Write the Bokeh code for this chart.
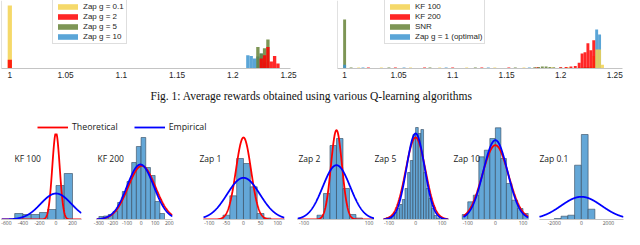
import numpy as np
from bokeh.plotting import figure
from bokeh.models import (Range1d, FixedTicker, Legend, LegendItem, Label, Span,
                          ColumnDataSource)
from bokeh.layouts import row, column
from bokeh.embed import file_html
from bokeh.resources import INLINE

# ======================= Fig. 1 data (counts out of 100 runs) =======================
fig1_tick_values = [1.0, 1.05, 1.1, 1.15, 1.2, 1.25]
fig1_tick_labels = ["1", "1.05", "1.1", "1.15", "1.2", "1.25"]

left_series = ["Zap g = 0.1", "Zap g = 2", "Zap g = 5", "Zap g = 10"]
left_count_at_one = [100, 14, 0, 0]
left_bin_centers = [1.2135, 1.2165, 1.2195, 1.2225, 1.2255, 1.2285, 1.2315, 1.2345, 1.2375, 1.2405]
left_zap_g01 = [0, 0, 0, 0, 0, 0, 0, 0, 0, 0]
left_zap_g2 = [0, 0, 0, 0, 16, 21, 34, 11, 20, 8]
left_zap_g5 = [0, 0, 0, 34, 24, 32, 46, 0, 0, 0]
left_zap_g10 = [21, 20, 16, 19, 24, 10, 0, 0, 0, 0]

right_series = ["KF 100", "KF 200", "SNR", "Zap g = 1 (optimal)"]
right_count_at_one = [0, 0, 78, 6]
right_bin_centers = [1.2171, 1.2198, 1.2225, 1.2252, 1.2279, 1.2306, 1.2333, 1.2360, 1.2387]
right_kf100 = [0, 0, 0, 1, 3, 20, 30, 30, 6]
right_kf200 = [9, 24, 26, 40, 29, 45, 0, 0, 0]
right_snr = [1, 1, 2, 2, 1, 1, 0, 0, 0]
right_zap1 = [0, 0, 0, 0, 0, 0, 62, 54, 0]
# sparse low-count bins spread between 1 and 1.21
right_kf100_tail_x = [1.013, 1.034, 1.061, 1.088, 1.113, 1.139, 1.166, 1.192, 1.207]
right_kf100_tail_n = [1.5, 1.5, 1.5, 1.5, 1.5, 1.5, 1.5, 1.5, 2]
right_kf200_tail_x = [1.022, 1.047, 1.074, 1.100, 1.127, 1.152, 1.178, 1.200, 1.205, 1.2095, 1.2135]
right_kf200_tail_n = [1.5, 1.5, 1.5, 1.5, 1.5, 1.5, 1.5, 2, 2.5, 3, 4]
right_snr_tail_x = [1.006, 1.041, 1.079, 1.121, 1.158, 1.176, 1.1795, 1.183, 1.1865, 1.190, 1.1935, 1.200]
right_snr_tail_n = [1.5, 1.5, 1.5, 1.5, 1.5, 2, 2.5, 3, 3, 2.5, 2, 1.5]
right_zap1_tail_x = [1.017, 1.055, 1.094, 1.133, 1.171]
right_zap1_tail_n = [1.5, 1.5, 1.5, 1.5, 1.5]

fig1_caption = "Fig. 1: Average rewards obtained using various Q-learning algorithms"

# ======================= Fig. 2 data (densities, common arbitrary scale) ============
fig2_panels = ["KF 100", "KF 200", "Zap 1", "Zap 2", "Zap 5", "Zap 10", "Zap 0.1"]
fig2_bin_start = [-500, -300, -60, -60, -110, -120, -2000]
fig2_bin_width = [100, 33.3, 20, 20, 10, 20, 500]
fig2_hist = [
    [6, 5, 5, 7, 10, 34, 46],
    [3, 3.5, 5, 8, 17, 28, 38, 57, 73, 82, 52, 44, 18, 6],
    [4.3, 23.7, 61, 56, 32.7, 6, 1.5],
    [4.3, 26, 74, 81, 31, 5, 1.5],
    [2, 3, 4.5, 7, 11, 15, 20, 31, 47, 59, 85, 92, 86, 90, 47, 31, 21, 11, 4, 1.5],
    [5, 17.7, 24.3, 62.7, 69.3, 81, 91.7, 61, 36, 19.3, 11, 6],
    [1, 3.3, 4.3, 54.3, 85, 10.3],
]
fig2_theory_mean = [0, 5, 0, 0, 0, 0, None]
fig2_theory_sigma = [45, 97, 22, 17, 37, 47, None]
fig2_theory_peak = [86.7, 53.7, 82, 89.3, 82, 74.3, None]
fig2_emp_mean = [0, -5, 0, 0, 0, 0, 0]
fig2_emp_sigma = [185, 95, 48, 42, 34, 44, 1500]
fig2_emp_peak = [26, 55, 41.7, 54.3, 86, 79.3, 22.7]
fig2_xlim = [(-660, 309), (-317, 223), (-117, 120), (-120, 117), (-121, 124), (-115.5, 120), (-3094, 3115)]
fig2_tick_values = [[-600, -400, -200, 0, 200], [-300, -200, -100, 0, 100, 200],
                    [-100, -50, 0, 50, 100], [-100, 100], [-100, 0, 100], [-100, 0, 100],
                    [-2000, 0, 2000]]
fig2_tick_labels = [["-600", "-400", "-200", "0", "200"], ["-300", "-200", "-100", "0", "100", "200"],
                    ["-100", "-50", "0", "50", "100"], ["-100", "100"], ["-100", "0", "100"],
                    ["-100", "0", "100"], ["-2000", "0", "2000"]]
fig2_legend = ["Theoretical", "Empirical"]

# ======================= styling / layout (reference pixel geometry) ===============
S = 624 / 640.0


def px(x):
    return int(round(x * S))


C_YEL, C_RED, C_GRN, C_BLU = "#F3D250", "#FF0000", "#668337", "#3D95D0"
ALPHA = 0.85
AXIS_GRAY = "#c4c4c4"


def bare(p):
    p.outline_line_color = None
    p.xgrid.visible = False
    p.ygrid.visible = False
    p.background_fill_color = "white"
    p.border_fill_color = "white"


def style_xaxis(p, ticks, labels, font, size, color, standoff, bounds=None):
    ax = p.xaxis[0]
    ax.ticker = FixedTicker(ticks=ticks)
    ax.major_label_overrides = {t: l for t, l in zip(ticks, labels)}
    if bounds is not None:
        ax.bounds = bounds
    ax.axis_line_color = AXIS_GRAY
    ax.major_tick_line_color = None
    ax.minor_tick_line_color = None
    ax.major_tick_out = 0
    ax.major_tick_in = 0
    ax.major_label_text_font = font
    ax.major_label_text_font_size = size
    ax.major_label_text_color = color
    ax.major_label_standoff = standoff


def top_plot(canvas, frame, xlim, draw):
    L, R = canvas
    w = px(R) - px(L)
    bl = px(frame[0]) - px(L)
    br = px(R) - px(frame[1])
    p = figure(width=w, height=84, x_range=Range1d(*xlim), y_range=Range1d(0, 108),
               output_backend="svg", toolbar_location=None, tools="",
               min_border_left=bl, min_border_right=br, min_border_top=0, min_border_bottom=16,
               y_axis_location=None)
    bare(p)
    style_xaxis(p, fig1_tick_values, fig1_tick_labels, "Liberation Sans", "8.3px", "#262626", 3)
    p.add_layout(Span(location=xlim[0], dimension="height", line_color=AXIS_GRAY, line_width=1))
    rends = {}
    for name, color, xs, ns, ws in draw:
        keep = [i for i, n in enumerate(ns) if n > 0]
        src = ColumnDataSource(dict(x=[xs[i] for i in keep], top=[ns[i] for i in keep],
                                    w=[ws[i] for i in keep]))
        rends[name] = p.vbar(x="x", top="top", width="w", bottom=0, source=src,
                             fill_color=color, fill_alpha=ALPHA, line_color=None)
    return p, rends


def top_legend(p, rends, names, loc):
    leg = Legend(items=[LegendItem(label=n, renderers=[rends[n]]) for n in names],
                 location=loc, orientation="vertical",
                 label_text_font="Liberation Sans", label_text_font_size="8px",
                 label_text_color="#262626", glyph_width=25, glyph_height=7,
                 label_height=7, label_standoff=3, padding=2, spacing=1, margin=0,
                 border_line_color="#bdbdbd", border_line_width=1,
                 background_fill_color="white", background_fill_alpha=1)
    p.add_layout(leg)


# ---- top-left
w1, wb1 = 0.0038, 0.003
draw_left = [
    (left_series[0], C_YEL, [1.0] + left_bin_centers, [left_count_at_one[0]] + left_zap_g01, [w1] + [wb1] * 10),
    (left_series[3], C_BLU, [1.0] + left_bin_centers, [left_count_at_one[3]] + left_zap_g10, [w1] + [wb1] * 10),
    (left_series[2], C_GRN, [1.0] + left_bin_centers, [left_count_at_one[2]] + left_zap_g5, [w1] + [wb1] * 10),
    (left_series[1], C_RED, [1.0] + left_bin_centers, [left_count_at_one[1]] + left_zap_g2, [w1] + [wb1] * 10),
]
tl, tl_r = top_plot((0, 320), (1.5, 297), (0.99254, 1.25175), draw_left)
top_legend(tl, tl_r, left_series, (px(53) - px(1.5), 24))

# ---- top-right
wb2 = 0.0027
nb = len(right_bin_centers)
draw_right = [
    (right_series[2], C_GRN, [1.0] + right_bin_centers + right_snr_tail_x,
     [right_count_at_one[2]] + right_snr + right_snr_tail_n, [wb2] * (1 + nb + len(right_snr_tail_x))),
    (right_series[3], C_BLU, [1.0] + right_bin_centers + right_zap1_tail_x,
     [right_count_at_one[3]] + right_zap1 + right_zap1_tail_n, [wb2] * (1 + nb + len(right_zap1_tail_x))),
    (right_series[0], C_YEL, [1.0] + right_bin_centers + right_kf100_tail_x,
     [right_count_at_one[0]] + right_kf100 + right_kf100_tail_n, [wb2] * (1 + nb + len(right_kf100_tail_x))),
    (right_series[1], C_RED, [1.0] + right_bin_centers + right_kf200_tail_x,
     [right_count_at_one[1]] + right_kf200 + right_kf200_tail_n, [wb2] * (1 + nb + len(right_kf200_tail_x))),
]
tr, tr_r = top_plot((320, 640), (345.7, 638), (0.99341, 1.25722), draw_right)
top_legend(tr, tr_r, right_series, (px(394) - px(345.7), 24))

# ---- caption
cap = figure(width=624, height=26, x_range=Range1d(0, 1), y_range=Range1d(0, 1),
             output_backend="svg", toolbar_location=None, tools="",
             min_border_left=0, min_border_right=0, min_border_top=0, min_border_bottom=0,
             x_axis_location=None, y_axis_location=None)
bare(cap)
cap.add_layout(Label(x=px(319), y=15, x_units="screen", y_units="screen", text=fig1_caption,
                     text_font="Liberation Serif", text_font_size="11.5px", text_color="#111111",
                     text_align="center", text_baseline="middle"))

# ---- Fig. 2 panels
panel_canvas = [(0, 90), (90, 195), (195, 298), (298, 384), (384, 463), (463, 548), (548, 640)]
panel_frame = [(1.5, 83.5), (98.3, 176.7), (208, 291.7), (305, 384), (392.7, 460), (475, 541.7), (552.7, 639)]
title_left = [14, 99, 204, 305.7, 384, 465, 553.3]
N_UNDER_LEGEND = 3   # KF 100, KF 200, Zap 1 sit below the legend strip

panels = []
for i, name in enumerate(fig2_panels):
    L, R = panel_canvas[i]
    fl, fr = panel_frame[i]
    x0, x1 = fig2_xlim[i]
    # frame starts at the axis start, or earlier if the panel title sits left of it
    nfl = max(L, min(fl, title_left[i] - 1))
    per_px = (x1 - x0) / (px(fr) - px(fl))
    x0_ext = x0 - (px(fl) - px(nfl)) * per_px
    w = px(R) - px(L)
    bl = px(nfl) - px(L)
    br = px(R) - px(fr)
    if i < N_UNDER_LEGEND:
        h, bt = 96, 0
    else:
        h, bt = 119, 10
    bb = 10
    fh = h - bt - bb
    p = figure(width=w, height=h, x_range=Range1d(x0_ext, x1), y_range=Range1d(0, fh),
               output_backend="svg", toolbar_location=None, tools="",
               min_border_left=bl, min_border_right=br, min_border_top=bt, min_border_bottom=bb,
               y_axis_location=None)
    bare(p)
    style_xaxis(p, fig2_tick_values[i], fig2_tick_labels[i], "Open Sans", "5px", "#555555", 1,
                bounds=(x0, x1))
    hist = fig2_hist[i]
    lefts = [fig2_bin_start[i] + k * fig2_bin_width[i] for k in range(len(hist))]
    rights = [l + fig2_bin_width[i] for l in lefts]
    p.quad(left=lefts, right=rights, bottom=0, top=hist, fill_color="#64A7D7",
           line_color="#34485C", line_width=0.6)
    xs = np.linspace(x0, x1, 400)
    if fig2_theory_sigma[i] is not None:
        yt = fig2_theory_peak[i] * np.exp(-(xs - fig2_theory_mean[i]) ** 2 / (2 * fig2_theory_sigma[i] ** 2))
        p.line(xs, yt, line_color="#FF0000", line_width=1.8)
    ye = fig2_emp_peak[i] * np.exp(-(xs - fig2_emp_mean[i]) ** 2 / (2 * fig2_emp_sigma[i] ** 2))
    p.line(xs, ye, line_color="#0000FF", line_width=1.8)
    p.add_layout(Label(x=px(title_left[i]) - px(nfl), y=61.5, x_units="screen", y_units="screen",
                       text=name, text_font="Open Sans", text_font_size="8.5px",
                       text_color="#1a1a1a", text_align="left", text_baseline="middle"))
    panels.append(p)

# ---- Fig. 2 legend strip (above KF 100 / KF 200 / Zap 1)
lg = figure(width=px(298) - px(0), height=23, x_range=Range1d(0, 1), y_range=Range1d(0, 1),
            output_backend="svg", toolbar_location=None, tools="",
            min_border_left=0, min_border_right=0, min_border_top=0, min_border_bottom=0,
            x_axis_location=None, y_axis_location=None)
bare(lg)
r_th = lg.line(x=[np.nan], y=[np.nan], line_color="#FF0000", line_width=1.8)
r_em = lg.line(x=[np.nan], y=[np.nan], line_color="#0000FF", line_width=1.8)
leg2 = Legend(items=[LegendItem(label=fig2_legend[0], renderers=[r_th]),
                     LegendItem(label=fig2_legend[1], renderers=[r_em])],
              location=(px(38), 0), orientation="horizontal",
              label_text_font="Open Sans", label_text_font_size="8.8px", label_text_color="#1a1a1a",
              glyph_width=31, glyph_height=8, label_height=8, label_standoff=4,
              spacing=16, padding=0, margin=0, border_line_color=None,
              background_fill_alpha=0)
lg.add_layout(leg2)

bottom = row(column(lg, row(*panels[:N_UNDER_LEGEND])), *panels[N_UNDER_LEGEND:])
layout = column(row(tl, tr), cap, bottom)

open("out.html", "w").write(file_html(layout, INLINE))
